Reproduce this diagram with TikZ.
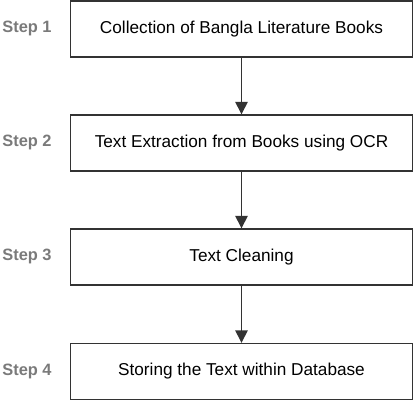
\documentclass[tikz,border=0pt]{standalone}
\usepackage{fontspec}
\setmainfont{Liberation Sans}
\usetikzlibrary{arrows.meta}
\begin{document}
\begin{tikzpicture}[x=1pt,y=-1pt,
  stepbox/.style={draw=black!80,line width=1.4pt,minimum width=342pt,minimum height=56pt,font=\fontsize{17.2}{20}\selectfont,inner sep=0pt},
  steplabel/.style={text=black!52,font=\bfseries\fontsize{16.4}{19}\selectfont,inner sep=0pt},
  flow/.style={draw=black!80,line width=1.4pt,-{Triangle[length=12.5pt,width=12.5pt]}}]
\useasboundingbox (0,0) rectangle (414,402);
\node[stepbox] (b1) at (241.5,29) {Collection of Bangla Literature Books};
\node[stepbox] (b2) at (241.5,143) {Text Extraction from Books using OCR};
\node[stepbox] (b3) at (241.5,257) {Text Cleaning};
\node[stepbox] (b4) at (241.5,371.5) {Storing the Text within Database};
\node[steplabel] (s1) at (27,28) {Step 1};
\node[steplabel] (s2) at (27,142) {Step 2};
\node[steplabel] (s3) at (27,256) {Step 3};
\node[steplabel] (s4) at (27,371) {Step 4};
\draw[flow] (b1) -- (b2);
\draw[flow] (b2) -- (b3);
\draw[flow] (b3) -- (b4);
\end{tikzpicture}
\end{document}
